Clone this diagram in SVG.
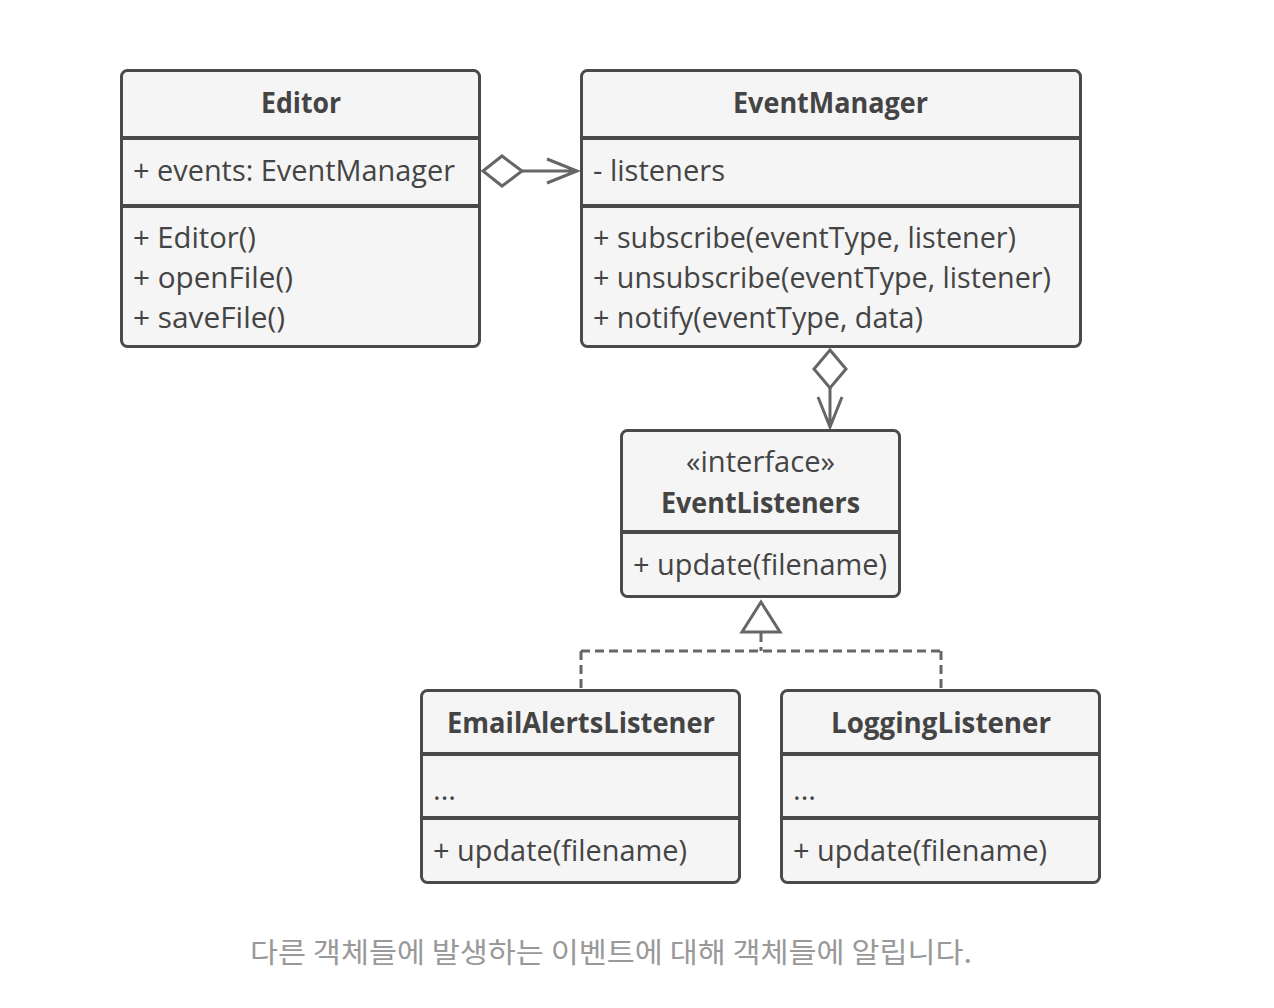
<svg xmlns="http://www.w3.org/2000/svg" width="1274" height="1008" viewBox="0 0 1274 1008">
<style>
.box{fill:#f5f5f5;stroke:#4a4a4a;stroke-width:3}
.div{stroke:#4a4a4a;stroke-width:4}
.t{font-family:"Open Sans","Noto Sans","Liberation Sans",sans-serif;font-size:29px;fill:#444}
.b{font-weight:bold}
.c{text-anchor:middle}
.ln{fill:none;stroke:#666;stroke-width:3}
.cap{font-family:"Noto Sans CJK KR","Noto Sans",sans-serif;font-size:28px;fill:#999}
</style>
<rect width="1274" height="1008" fill="#ffffff"/>
<g id="connectors">
  <path class="ln" d="M522,171 H577 M547,159 L577,171 L547,183"/>
  <path class="ln" d="M483,171 L502,156 L522,171 L502,186 Z" fill="#fff"/>
  <path class="ln" d="M830,388 V427 M818,397 L830,427 L842,397"/>
  <path class="ln" d="M830,350 L846,369 L830,388 L814,369 Z" fill="#fff"/>
  <path class="ln" d="M761,633 V651 M581,651 H941 M581,651 V689 M941,651 V689" stroke-dasharray="9 5"/>
  <path class="ln" d="M761,602 L780,632 L742,632 Z" fill="#fff"/>
</g>
<g id="editor">
  <rect class="box" x="121.5" y="70.5" width="358" height="276" rx="6"/>
  <line class="div" x1="121" y1="138" x2="480" y2="138"/>
  <line class="div" x1="121" y1="206" x2="480" y2="206"/>
  <text class="t b c" x="301" y="113" textLength="80" lengthAdjust="spacingAndGlyphs">Editor</text>
  <text class="t" x="133" y="181" textLength="322" lengthAdjust="spacingAndGlyphs">+ events: EventManager</text>
  <text class="t" x="133" y="248" textLength="123" lengthAdjust="spacingAndGlyphs">+ Editor()</text>
  <text class="t" x="133" y="288" textLength="160" lengthAdjust="spacingAndGlyphs">+ openFile()</text>
  <text class="t" x="133" y="328" textLength="152" lengthAdjust="spacingAndGlyphs">+ saveFile()</text>
</g>
<g id="eventmanager">
  <rect class="box" x="581.5" y="70.5" width="499" height="276" rx="6"/>
  <line class="div" x1="581" y1="138" x2="1081" y2="138"/>
  <line class="div" x1="581" y1="206" x2="1081" y2="206"/>
  <text class="t b c" x="830.5" y="113" textLength="195" lengthAdjust="spacingAndGlyphs">EventManager</text>
  <text class="t" x="593" y="181" textLength="132" lengthAdjust="spacingAndGlyphs">- listeners</text>
  <text class="t" x="593" y="248" textLength="423" lengthAdjust="spacingAndGlyphs">+ subscribe(eventType, listener)</text>
  <text class="t" x="593" y="288" textLength="458" lengthAdjust="spacingAndGlyphs">+ unsubscribe(eventType, listener)</text>
  <text class="t" x="593" y="328" textLength="330" lengthAdjust="spacingAndGlyphs">+ notify(eventType, data)</text>
</g>
<g id="eventlisteners">
  <rect class="box" x="621.5" y="430.5" width="278" height="166" rx="6"/>
  <line class="div" x1="621" y1="532" x2="900" y2="532"/>
  <text class="t c" x="760.5" y="472" textLength="149" lengthAdjust="spacingAndGlyphs">«interface»</text>
  <text class="t b c" x="760.5" y="513" textLength="199" lengthAdjust="spacingAndGlyphs">EventListeners</text>
  <text class="t" x="633" y="575" textLength="254" lengthAdjust="spacingAndGlyphs">+ update(filename)</text>
</g>
<g id="emailalertslistener">
  <rect class="box" x="421.5" y="690.5" width="318" height="192" rx="6"/>
  <line class="div" x1="421" y1="754" x2="740" y2="754"/>
  <line class="div" x1="421" y1="818" x2="740" y2="818"/>
  <text class="t b c" x="581" y="733" textLength="268" lengthAdjust="spacingAndGlyphs">EmailAlertsListener</text>
  <text class="t" x="433" y="800" textLength="23" lengthAdjust="spacingAndGlyphs">...</text>
  <text class="t" x="433" y="861" textLength="254" lengthAdjust="spacingAndGlyphs">+ update(filename)</text>
</g>
<g id="logginglistener">
  <rect class="box" x="781.5" y="690.5" width="318" height="192" rx="6"/>
  <line class="div" x1="781" y1="754" x2="1100" y2="754"/>
  <line class="div" x1="781" y1="818" x2="1100" y2="818"/>
  <text class="t b c" x="941" y="733" textLength="220" lengthAdjust="spacingAndGlyphs">LoggingListener</text>
  <text class="t" x="793" y="800" textLength="23" lengthAdjust="spacingAndGlyphs">...</text>
  <text class="t" x="793" y="861" textLength="254" lengthAdjust="spacingAndGlyphs">+ update(filename)</text>
</g>
<text class="cap" x="250" y="963" textLength="722" lengthAdjust="spacingAndGlyphs">다른 객체들에 발생하는 이벤트에 대해 객체들에 알립니다.</text>
</svg>
